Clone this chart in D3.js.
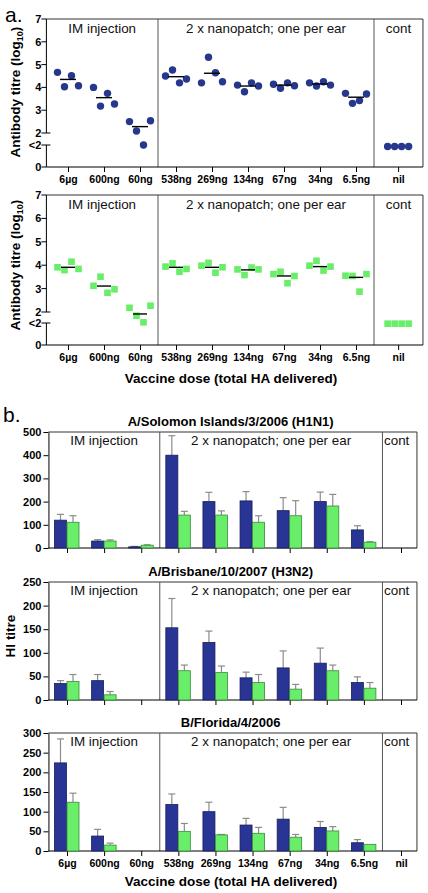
<!DOCTYPE html>
<html><head><meta charset="utf-8">
<script src="https://cdn.jsdelivr.net/npm/d3@7"></script>
<style>body{margin:0;background:#fff}svg{display:block}text{font-family:"Liberation Sans",Arial,Helvetica,sans-serif}</style>
</head><body><svg id="c" width="428" height="893"></svg>
<script>
// ---------------- DATA ----------------
const categories = ["6\u00b5g","600ng","60ng","538ng","269ng","134ng","67ng","34ng","6.5ng","nil"];
const groupLabels = ["IM injection","2 x nanopatch; one per ear","cont"];
const logTickValues = [0,1,2,3,4,5,6,7];
const logTickLabels = ["0","<2","2","3","4","5","6","7"];

// panel a: individual antibody titres (log10); "<2" plotted at 1
const circleValues = [
  [4.66,4.03,4.51,4.07],[4.0,3.18,3.74,3.27],[2.5,2.09,1.0,2.54],
  [4.5,4.76,4.2,4.37],[4.2,5.32,4.64,4.25],[4.1,3.81,4.2,4.06],
  [4.14,3.96,4.2,4.07],[4.2,4.06,4.25,4.1],[3.74,3.3,3.42,3.71],[0.93,0.93,0.93,0.93]];
const circleLines = [4.35,3.55,2.28,4.47,4.62,4.06,4.1,4.15,3.57,null];
const squareValues = [
  [3.91,3.79,4.15,3.84],[3.12,3.51,2.82,2.97],[2.18,1.66,1.06,2.27],
  [3.94,4.08,3.72,3.84],[3.98,4.1,3.68,3.91],[3.82,3.58,3.9,3.82],
  [3.62,3.72,3.23,3.54],[3.98,4.19,3.77,3.94],[3.55,3.54,2.87,3.62],[0.97,0.97,0.97,0.97]];
const squareLines = [3.91,3.11,1.82,3.91,3.91,3.8,3.54,3.94,3.48,null];

// panel b: HI titres (mean and mean+error)
const strains = ["A/Solomon Islands/3/2006 (H1N1)","A/Brisbane/10/2007 (H3N2)","B/Florida/4/2006"];
const h1n1Blue     = [120,30,5,400,200,203,161,200,78,0];
const h1n1BlueErr  = [145,36,7,484,240,243,217,241,96,0];
const h1n1Green    = [111,30,12,142,142,111,139,181,25,0];
const h1n1GreenErr = [139,35,14,158,160,139,204,231,27,0];
const h3n2Blue     = [35,41,0,153,122,47,68,78,37,0];
const h3n2BlueErr  = [41,54,0,215,146,59,104,110,49,0];
const h3n2Green    = [39,11,0,62,58,37,23,62,25,0];
const h3n2GreenErr = [54,18,0,74,72,54,33,74,37,0];
const bflBlue      = [224,38,0,118,100,66,81,60,21,0];
const bflBlueErr   = [285,55,0,145,124,83,111,75,29,0];
const bflGreen     = [124,15,0,50,41,45,35,51,17,0];
const bflGreenErr  = [147,20,0,70,42,60,42,62,17,0];
const h1n1Ticks = [0,100,200,300,400,500];
const h3n2Ticks = [0,50,100,150,200,250];
const bflTicks  = [0,50,100,150,200,250,300];

// ---------------- STYLE ----------------
const BLUE = "#283594", BLUE_EDGE = "#161c5c";
const GREEN = "#68ee68", GREEN_EDGE = "#3a8a3a";
const DOT = "#26378c";
const ERR = "#8c8c8c";
const FRAME = "#333", DIV = "#555";

const svg = d3.select("#c");

function frame(g, o) {
  g.append("line").attr("x1",o.left).attr("x2",o.right).attr("y1",o.top).attr("y2",o.top).attr("stroke",FRAME);
  g.append("line").attr("x1",o.right).attr("x2",o.right).attr("y1",o.top).attr("y2",o.bottom).attr("stroke",FRAME);
  o.divs.forEach(d => g.append("line").attr("x1",d).attr("x2",d).attr("y1",o.top).attr("y2",o.bottom).attr("stroke",DIV));
  const centers = [(o.left+o.divs[0])/2, (o.divs[0]+o.divs[1])/2, (o.divs[1]+o.right)/2 + o.contShift];
  g.selectAll(null).data(groupLabels).join("text")
    .attr("x",(d,i)=>centers[i]).attr("y",o.top+o.labelDy)
    .attr("text-anchor","middle").attr("font-size",13.4).attr("fill","#111").text(d=>d);
  // bottom axis
  g.append("line").attr("x1",o.left).attr("x2",o.right).attr("y1",o.bottom).attr("y2",o.bottom).attr("stroke","#000");
  const ax = g.append("g").attr("transform",`translate(0,${o.bottom})`)
    .call(d3.axisBottom(o.pos).tickSize(5).tickPadding(4).tickFormat(o.showLabels ? d=>d : ""));
  ax.select(".domain").remove();
  ax.selectAll("line").attr("stroke","#000");
  ax.selectAll("text").attr("font-size",10.5).attr("font-weight","bold").attr("fill","#000")
    .style("font-family",'"Liberation Sans",Arial,sans-serif');
}

// ---------------- PANEL A ----------------
const xa = d3.scaleLinear().domain([0,8]).range([68,356]);
const slotA = i => i < 9 ? i : 9.17;
const posA = d3.scaleOrdinal().domain(categories).range(categories.map((c,i)=>xa(slotA(i))));
const aLeft = xa(-0.6), aRight = xa(9.86), aDivs = [xa(2.5), xa(8.5)];
const offsets = [-10.5,-3.5,3.5,10.5];

const aCharts = [
  {top:19,bottom:167,lo:145,hi:133,values:circleValues,lines:circleLines,shape:"circle",ylab:92,lineW:16},
  {top:195,bottom:345,lo:323,hi:312,values:squareValues,lines:squareLines,shape:"square",ylab:265,lineW:14}
];
aCharts.forEach(c => {
  const g = svg.append("g");
  const y = d3.scaleLinear().domain([0,1,2,7]).range([c.bottom,c.lo,c.hi,c.top]);
  frame(g,{left:aLeft,right:aRight,top:c.top,bottom:c.bottom,divs:aDivs,contShift:0,labelDy:14,pos:posA,showLabels:true});
  // broken y axis
  g.append("line").attr("x1",aLeft).attr("x2",aLeft).attr("y1",y(7)).attr("y2",y(2)).attr("stroke","#000");
  g.append("line").attr("x1",aLeft).attr("x2",aLeft).attr("y1",y(1)).attr("y2",y(0)).attr("stroke","#000");
  g.selectAll(null).data(logTickValues).join("line")
    .attr("x1",aLeft-5).attr("x2",d=> (d===1||d===2) ? aLeft+4 : aLeft)
    .attr("y1",d=>y(d)).attr("y2",d=>y(d)).attr("stroke","#000");
  g.selectAll(null).data(logTickValues).join("text")
    .attr("x",aLeft-5).attr("y",d=>y(d)).attr("dy","0.36em").attr("text-anchor","end")
    .attr("font-size",11).attr("font-weight","bold").text((d,i)=>logTickLabels[i]);
  // points
  const pts = [];
  c.values.forEach((arr,i)=>arr.forEach((v,j)=>pts.push({x:posA(categories[i])+offsets[j], y:y(v)})));
  if (c.shape==="circle") {
    g.selectAll(null).data(pts).join("circle").attr("cx",d=>d.x).attr("cy",d=>d.y).attr("r",3.7).attr("fill",DOT);
  } else {
    g.selectAll(null).data(pts).join("rect").attr("x",d=>d.x-3.3).attr("y",d=>d.y-3.3)
      .attr("width",6.6).attr("height",6.6).attr("fill",GREEN);
  }
  g.selectAll(null).data(c.lines.map((v,i)=>({v,i})).filter(d=>d.v!==null)).join("line")
    .attr("x1",d=>posA(categories[d.i])-c.lineW/2).attr("x2",d=>posA(categories[d.i])+c.lineW/2)
    .attr("y1",d=>y(d.v)).attr("y2",d=>y(d.v)).attr("stroke","#000").attr("stroke-width",1.4);
  // y title
  const t = g.append("text").attr("transform",`translate(20,${c.ylab}) rotate(-90)`)
    .attr("text-anchor","middle").attr("font-size",13.5).attr("font-weight","bold");
  t.append("tspan").text("Antibody titre (log");
  t.append("tspan").attr("font-size",9).attr("dy",3).text("10");
  t.append("tspan").attr("dy",-3).text(")");
});
svg.append("text").attr("x",231).attr("y",383).attr("text-anchor","middle").attr("font-size",13.5)
  .attr("font-weight","bold").text("Vaccine dose (total HA delivered)");
svg.append("text").attr("x",5).attr("y",22).attr("font-size",21).text("a.");
svg.append("text").attr("x",3).attr("y",422).attr("font-size",21).text("b.");

// ---------------- PANEL B ----------------
const xb = d3.scaleLinear().domain([0,9]).range([67,401]);
const posB = d3.scaleOrdinal().domain(categories).range(categories.map((c,i)=>xb(i)));
const bLeft = xb(-0.5), bRight = xb(9.43), bDivs = [xb(2.5), xb(8.5)];
const bCharts = [
  {title:strains[0],top:432,bottom:548,ticks:h1n1Ticks,blue:h1n1Blue,blueErr:h1n1BlueErr,green:h1n1Green,greenErr:h1n1GreenErr,labels:false},
  {title:strains[1],top:582,bottom:700,ticks:h3n2Ticks,blue:h3n2Blue,blueErr:h3n2BlueErr,green:h3n2Green,greenErr:h3n2GreenErr,labels:false},
  {title:strains[2],top:733,bottom:851,ticks:bflTicks,blue:bflBlue,blueErr:bflBlueErr,green:bflGreen,greenErr:bflGreenErr,labels:true}
];
const BW = 12;
bCharts.forEach(c => {
  const g = svg.append("g");
  const y = d3.scaleLinear().domain([0,d3.max(c.ticks)]).range([c.bottom,c.top]);
  frame(g,{left:bLeft,right:bRight,top:c.top,bottom:c.bottom,divs:bDivs,contShift:-3,labelDy:13,pos:posB,showLabels:c.labels});
  const ay = g.append("g").attr("transform",`translate(${bLeft},0)`)
    .call(d3.axisLeft(y).tickValues(c.ticks).tickSize(5).tickSizeOuter(0).tickPadding(2));
  ay.selectAll("line,path").attr("stroke","#000");
  ay.selectAll("text").attr("font-size",11).attr("font-weight","bold").attr("fill","#000")
    .style("font-family",'"Liberation Sans",Arial,sans-serif');
  g.append("text").attr("x",(bLeft+bRight)/2-2).attr("y",c.top-6).attr("text-anchor","middle")
    .attr("font-size",13).attr("font-weight","bold").text(c.title);
  const series = [
    {vals:c.blue, errs:c.blueErr, dx:-BW-0.5, fill:BLUE, edge:BLUE_EDGE},
    {vals:c.green, errs:c.greenErr, dx:0, fill:GREEN, edge:GREEN_EDGE}
  ];
  series.forEach(s => {
    const d = s.vals.map((v,i)=>({v,e:s.errs[i],x:posB(categories[i])+s.dx})).filter(d=>d.v>0);
    g.selectAll(null).data(d).join("line").attr("x1",d=>d.x+BW/2).attr("x2",d=>d.x+BW/2)
      .attr("y1",d=>y(d.v)).attr("y2",d=>y(d.e)).attr("stroke",ERR).attr("stroke-width",1.2);
    g.selectAll(null).data(d.filter(d=>d.e>d.v)).join("line").attr("x1",d=>d.x+BW/2-3.5).attr("x2",d=>d.x+BW/2+3.5)
      .attr("y1",d=>y(d.e)).attr("y2",d=>y(d.e)).attr("stroke",ERR).attr("stroke-width",1.2);
    g.selectAll(null).data(d).join("rect").attr("x",d=>d.x).attr("width",BW)
      .attr("y",d=>y(d.v)).attr("height",d=>c.bottom-y(d.v))
      .attr("fill",s.fill).attr("stroke",s.edge).attr("stroke-width",0.8);
  });
});
svg.append("text").attr("transform","translate(15,636) rotate(-90)").attr("text-anchor","middle")
  .attr("font-size",13.5).attr("font-weight","bold").text("HI titre");
svg.append("text").attr("x",231).attr("y",886).attr("text-anchor","middle").attr("font-size",13.5)
  .attr("font-weight","bold").text("Vaccine dose (total HA delivered)");
</script></body></html>
